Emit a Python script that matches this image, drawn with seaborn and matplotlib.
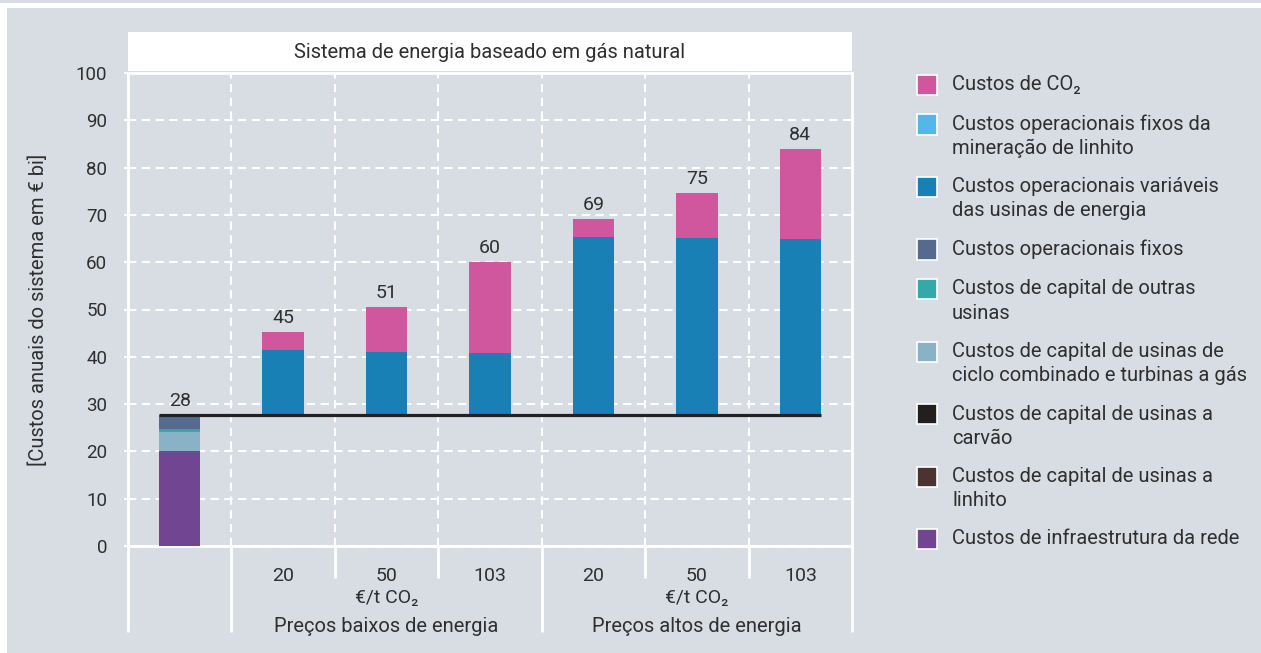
import numpy as np
import pandas as pd
import matplotlib
matplotlib.use("Agg")
import matplotlib.pyplot as plt
from matplotlib.patches import Rectangle
import seaborn as sns

# ---------------------------------------------------------------------------
# Data (annual system costs, € bn)
# ---------------------------------------------------------------------------
scenarios = ["Referência", "Baixo 20", "Baixo 50", "Baixo 103",
             "Alto 20", "Alto 50", "Alto 103"]
co2_price_labels = ["", "20", "50", "103", "20", "50", "103"]
price_unit = "€/t CO₂"
group_labels = ["Preços baixos de energia", "Preços altos de energia"]
group_centers = [2, 5]
chart_title = "Sistema de energia baseado em gás natural"
y_title = "[Custos anuais do sistema em € bi]"

# Components of the base system (first bar), bottom to top
base_components = ["grid", "ccgt_capex", "other_capex", "fixed_opex"]
base_values = [20.1, 4.1, 0.5, 2.9]

# Extra costs of each price scenario, stacked on the base system
variable_opex = [13.9, 13.5, 13.1, 37.8, 37.5, 37.2]
co2_costs = [3.8, 9.5, 19.4, 3.8, 9.5, 19.2]

component_keys = ["co2", "mining_fixed_opex", "variable_opex", "fixed_opex",
                  "other_capex", "ccgt_capex", "coal_capex", "lignite_capex",
                  "grid"]
legend_labels = [
    "Custos de CO₂",
    "Custos operacionais fixos da\nmineração de linhito",
    "Custos operacionais variáveis\ndas usinas de energia",
    "Custos operacionais fixos",
    "Custos de capital de outras\nusinas",
    "Custos de capital de usinas de\nciclo combinado e turbinas a gás",
    "Custos de capital de usinas a\ncarvão",
    "Custos de capital de usinas a\nlinhito",
    "Custos de infraestrutura da rede",
]
component_colors = ["#d0569e", "#52b8e8", "#1880b4", "#566a90", "#35a9aa",
                    "#8ab2c6", "#231f20", "#4b3330", "#724592"]
palette = dict(zip(component_keys, component_colors))

# ---------------------------------------------------------------------------
# Long table with the bottom of every stacked segment
# ---------------------------------------------------------------------------
rows = []
level = 0.0
for key, val in zip(base_components, base_values):
    rows.append(dict(scenario=scenarios[0], component=key, value=val, bottom=level))
    level += val
base_total = level
for scen, var, co2 in zip(scenarios[1:], variable_opex, co2_costs):
    rows.append(dict(scenario=scen, component="variable_opex", value=var, bottom=base_total))
    rows.append(dict(scenario=scen, component="co2", value=co2, bottom=base_total + var))
df = pd.DataFrame(rows)
totals = [base_total] + [base_total + v + c for v, c in zip(variable_opex, co2_costs)]

# ---------------------------------------------------------------------------
# Style
# ---------------------------------------------------------------------------
BG = "#d8dce3"
TXT = "#2f2f2f"
sns.set_theme(style="white")
plt.rcParams["font.family"] = ["Roboto", "DejaVu Sans"]
plt.rcParams["text.color"] = TXT
plt.rcParams["axes.labelcolor"] = TXT
plt.rcParams["xtick.color"] = TXT
plt.rcParams["ytick.color"] = TXT

W, H = 1261, 653
fig = plt.figure(figsize=(W / 100, H / 100), dpi=100, facecolor=BG)

def fx(px):
    return px / W

def fy(py):
    return 1 - py / H

ax_left, ax_right, ax_top, ax_bottom = 128, 852, 73, 546
ax = fig.add_axes([fx(ax_left), fy(ax_bottom),
                   fx(ax_right - ax_left), (ax_bottom - ax_top) / H])
ax.set_facecolor(BG)
ax.set_axisbelow(True)

# Stacked bars, drawn segment by segment
draw_order = base_components + ["variable_opex", "co2"]
for key in draw_order:
    sub = df[df["component"] == key]
    sns.barplot(data=sub, x="scenario", y="value", order=scenarios,
                color=palette[key], saturation=1, width=0.4,
                bottom=sub["bottom"].to_numpy(), errorbar=None,
                linewidth=0, ax=ax, zorder=3)

# Base system level carried across all scenarios
ax.hlines(base_total, -0.2, len(scenarios) - 1 + 0.2, colors="#222222",
          lw=2.3, zorder=5)

# Totals above the bars
for i, t in enumerate(totals):
    ax.annotate(f"{round(t):d}", (i, t), xytext=(0, 6.5),
                textcoords="offset points", ha="center", va="baseline",
                fontsize=14, color=TXT, zorder=6)

# Axes limits, ticks, grid
ax.set_xlim(-0.5, len(scenarios) - 0.5)
ax.set_ylim(0, 100)
ax.set_yticks(np.arange(0, 101, 10))
ax.set_xticks(range(len(scenarios)))
ax.set_xticklabels(co2_price_labels, fontsize=14)
ax.set_xticks(np.arange(0.5, len(scenarios) - 1, 1), minor=True)
ax.tick_params(axis="y", labelsize=13.5, length=3, width=1.5,
               color="white", pad=12, left=True)
ax.tick_params(axis="x", which="both", length=0, pad=15)
grid_kw = dict(color="white", linestyle=(0, (4, 2.6)), linewidth=1.5)
ax.yaxis.grid(True, **grid_kw)
ax.xaxis.grid(True, which="minor", **grid_kw)
ax.xaxis.grid(False, which="major")
for sp in ax.spines.values():
    sp.set_visible(True)
    sp.set_color("white")
    sp.set_linewidth(2)

ax.set_xlabel("")
ax.set_ylabel(y_title, fontsize=14.5, color=TXT)
ax.yaxis.set_label_coords(-(ax_left - 38) / (ax_right - ax_left), 0.5)
ax.yaxis.label.set_verticalalignment("center")

# Separators and captions below the axis
xt = ax.get_xaxis_transform()
ax_h = ax_bottom - ax_top
for x in (-0.5, 0.5, 3.5, 6.5):
    ax.plot([x, x], [0, -(632 - ax_bottom) / ax_h], transform=xt,
            color="white", lw=2, clip_on=False, solid_capstyle="butt")
for x in (1.5, 2.5, 4.5, 5.5):
    ax.plot([x, x], [0, -(578 - ax_bottom) / ax_h], transform=xt,
            color="white", lw=2, clip_on=False, solid_capstyle="butt")
for xc, glabel in zip(group_centers, group_labels):
    ax.text(xc, -(598 - ax_bottom) / ax_h, price_unit, transform=xt,
            ha="center", va="center", fontsize=14, color=TXT)
    ax.text(xc, -(627 - ax_bottom) / ax_h, glabel, transform=xt,
            ha="center", va="center", fontsize=14.5, color=TXT)

# Title box above the plot
fig.patches.append(Rectangle((fx(ax_left), fy(71)), fx(ax_right - ax_left),
                             39 / H, transform=fig.transFigure,
                             facecolor="white", edgecolor="none"))
fig.text(fx((ax_left + ax_right) / 2), fy(52), chart_title, ha="center",
         va="center", fontsize=14.5, color=TXT)

# Page frame strips
fig.patches.append(Rectangle((0, fy(8)), 1, 5 / H, transform=fig.transFigure,
                             facecolor="white", edgecolor="none"))
fig.patches.append(Rectangle((0, 0), fx(7), fy(8), transform=fig.transFigure,
                             facecolor="white", edgecolor="none"))

# Legend: square aligned with the first line of each label
top = 75.0
for color, label in zip(component_colors, legend_labels):
    lines = label.split("\n")
    fig.patches.append(Rectangle((fx(917), fy(top + 20)), fx(20), 20 / H,
                                 transform=fig.transFigure, facecolor=color,
                                 edgecolor="white", linewidth=1.2))
    for j, line in enumerate(lines):
        fig.text(fx(952), fy(top + 10 + 24 * j), line, ha="left",
                 va="center", fontsize=14.5, color=TXT)
    top += 39.5 + 23 * (len(lines) - 1)

fig.savefig("out.png", dpi=100, facecolor=BG)
